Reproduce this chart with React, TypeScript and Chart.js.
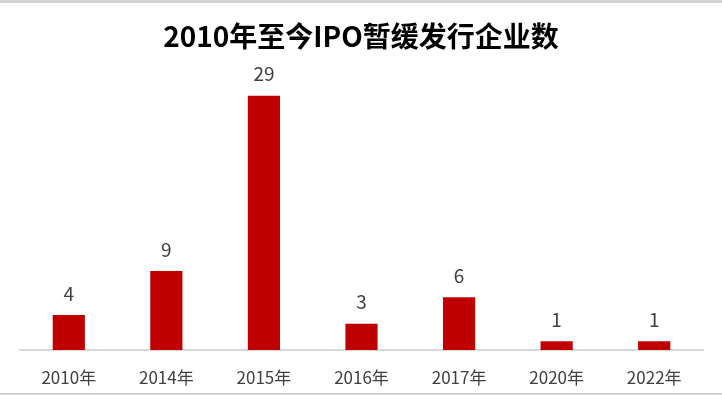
import React, { useEffect, useRef } from "react";
import { Chart, registerables } from "chart.js";

Chart.register(...registerables);

const categories = ["2010年", "2014年", "2015年", "2016年", "2017年", "2020年", "2022年"];
const values = [4, 9, 29, 3, 6, 1, 1];
const titleText = "2010年至今IPO暂缓发行企业数";

const FONT = "'Noto Sans CJK SC', 'Noto Sans', sans-serif";

const decorPlugin = {
  id: "decor",
  afterDatasetsDraw(chart: any) {
    const ctx = chart.ctx;
    const meta = chart.getDatasetMeta(0);
    ctx.save();
    ctx.fillStyle = "#404040";
    ctx.font = `19px ${FONT}`;
    ctx.textAlign = "center";
    ctx.textBaseline = "bottom";
    meta.data.forEach((el: any, i: number) => {
      ctx.fillText(String(values[i]), el.x, el.y - 12);
    });
    // title
    ctx.fillStyle = "#000000";
    ctx.font = `bold 28px ${FONT}`;
    ctx.textBaseline = "middle";
    ctx.fillText(titleText, chart.width / 2, 36);
    // frame lines
    ctx.fillStyle = "#d4d4d4";
    ctx.fillRect(0, 0, chart.width, 3);
    ctx.fillRect(0, chart.height - 2, chart.width, 2);
    ctx.restore();
  },
};

export default function App() {
  const ref = useRef<HTMLCanvasElement>(null);
  useEffect(() => {
    if (!ref.current) return;
    const chart = new Chart(ref.current, {
      type: "bar",
      data: {
        labels: categories,
        datasets: [
          {
            data: values,
            backgroundColor: "#C00000",
            categoryPercentage: 1,
            barPercentage: 0.33,
          },
        ],
      },
      options: {
        animation: false,
        responsive: true,
        maintainAspectRatio: false,
        layout: { padding: { top: 43, left: 20, right: 19, bottom: 0 } },
        plugins: {
          legend: { display: false },
          title: { display: false },
          tooltip: { enabled: false },
        },
        scales: {
          y: { display: false, min: 0, max: 35 },
          x: {
            grid: { display: false, drawTicks: false },
            border: { display: true, color: "#d9d9d9", width: 2 },
            ticks: {
              color: "#404040",
              font: { size: 17, family: FONT },
              padding: 17,
            },
            afterFit(scale: any) {
              scale.height = 45;
            },
          },
        },
      },
      plugins: [decorPlugin],
    });
    return () => chart.destroy();
  }, []);
  return (
    <div style={{ position: "fixed", left: 0, top: 0, width: 722, height: 395, background: "#fff" }}>
      <canvas ref={ref} />
    </div>
  );
}
